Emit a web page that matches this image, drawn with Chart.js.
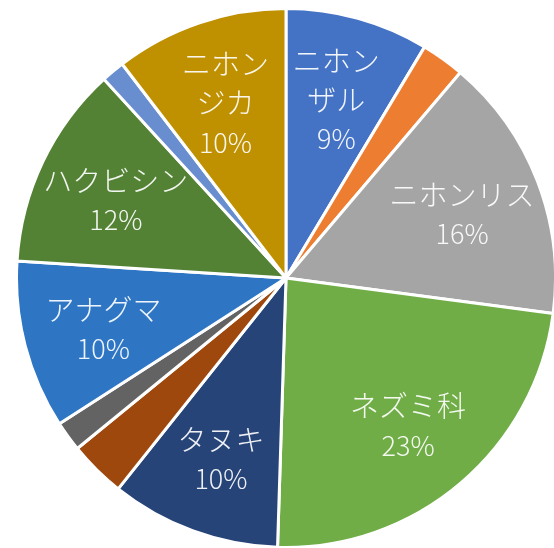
<!DOCTYPE html>
<html lang="ja">
<head>
<meta charset="utf-8">
<title>捕獲種の割合</title>
<script src="https://cdn.jsdelivr.net/npm/chart.js"></script>
<style>
    html, body {
        margin: 0;
        padding: 0;
        width: 554px;
        height: 548px;
        overflow: hidden;
        background: #FFFFFF;
    }
    #pie {
        position: absolute;
        left: 15px;
        top: 7px;
    }
</style>
</head>
<body>
<canvas id="pie" width="542" height="542"></canvas>
<script>
// --------------------------------------------------
//  Data (share of each species, %)
// --------------------------------------------------
// null = slice drawn without a label
var species = [
    'ニホン\nザル', null, 'ニホンリス', 'ネズミ科', 'タヌキ',
    null, null, 'アナグマ', 'ハクビシン', null, 'ニホン\nジカ'
];
var shares = [8.6, 2.6, 15.9, 23.4, 10.2, 3.4, 1.8, 10.1, 12.2, 1.4, 10.4];
var sliceColors = [
    '#4472C4', '#ED7D31', '#A5A5A5', '#70AD47', '#264478',
    '#9E480E', '#636363', '#2E75C4', '#548235', '#698ED0', '#BF9000'
];

var NAME_FONT = '300 29px "Noto Sans CJK JP", "Noto Sans", sans-serif';
var PCT_FONT = '300 27px "Noto Sans CJK JP", "Noto Sans", sans-serif';
var LINE_HEIGHT = 39;

// --------------------------------------------------
//  In-slice labels: name + rounded percentage
// --------------------------------------------------
var sliceLabels = {
    id: 'sliceLabels',
    afterDatasetsDraw: function (chart) {
        var ctx = chart.ctx;
        var meta = chart.getDatasetMeta(0);
        var total = shares.reduce(function (a, b) { return a + b; }, 0);

        ctx.save();
        ctx.fillStyle = 'rgba(255, 255, 255, 0.92)';
        ctx.textAlign = 'center';
        ctx.textBaseline = 'middle';

        meta.data.forEach(function (arc, i) {
            if (!species[i]) return;
            var p = arc.getProps(['x', 'y', 'startAngle', 'endAngle', 'outerRadius'], true);
            var mid = (p.startAngle + p.endAngle) / 2;
            var r = p.outerRadius * 0.7;
            var cx = p.x + Math.cos(mid) * r;
            var cy = p.y + Math.sin(mid) * r + 4;

            var lines = species[i].split('\n');
            var top = cy - lines.length * LINE_HEIGHT / 2;

            ctx.font = NAME_FONT;
            lines.forEach(function (line, k) {
                ctx.fillText(line, cx, top + k * LINE_HEIGHT);
            });
            ctx.font = PCT_FONT;
            ctx.fillText(Math.round(shares[i] / total * 100) + '%', cx,
                top + lines.length * LINE_HEIGHT);
        });
        ctx.restore();
    }
};

// --------------------------------------------------
//  Chart
// --------------------------------------------------
new Chart(document.getElementById('pie').getContext('2d'), {
    type: 'pie',
    data: {
        labels: species.map(function (s) { return s ? s.replace('\n', '') : ''; }),
        datasets: [{
            data: shares,
            backgroundColor: sliceColors,
            borderColor: '#FFFFFF',
            borderWidth: 3
        }]
    },
    options: {
        responsive: false,
        animation: false,
        layout: { padding: 0 },
        plugins: {
            legend: { display: false },
            tooltip: { enabled: false }
        }
    },
    plugins: [sliceLabels]
});
</script>
</body>
</html>
